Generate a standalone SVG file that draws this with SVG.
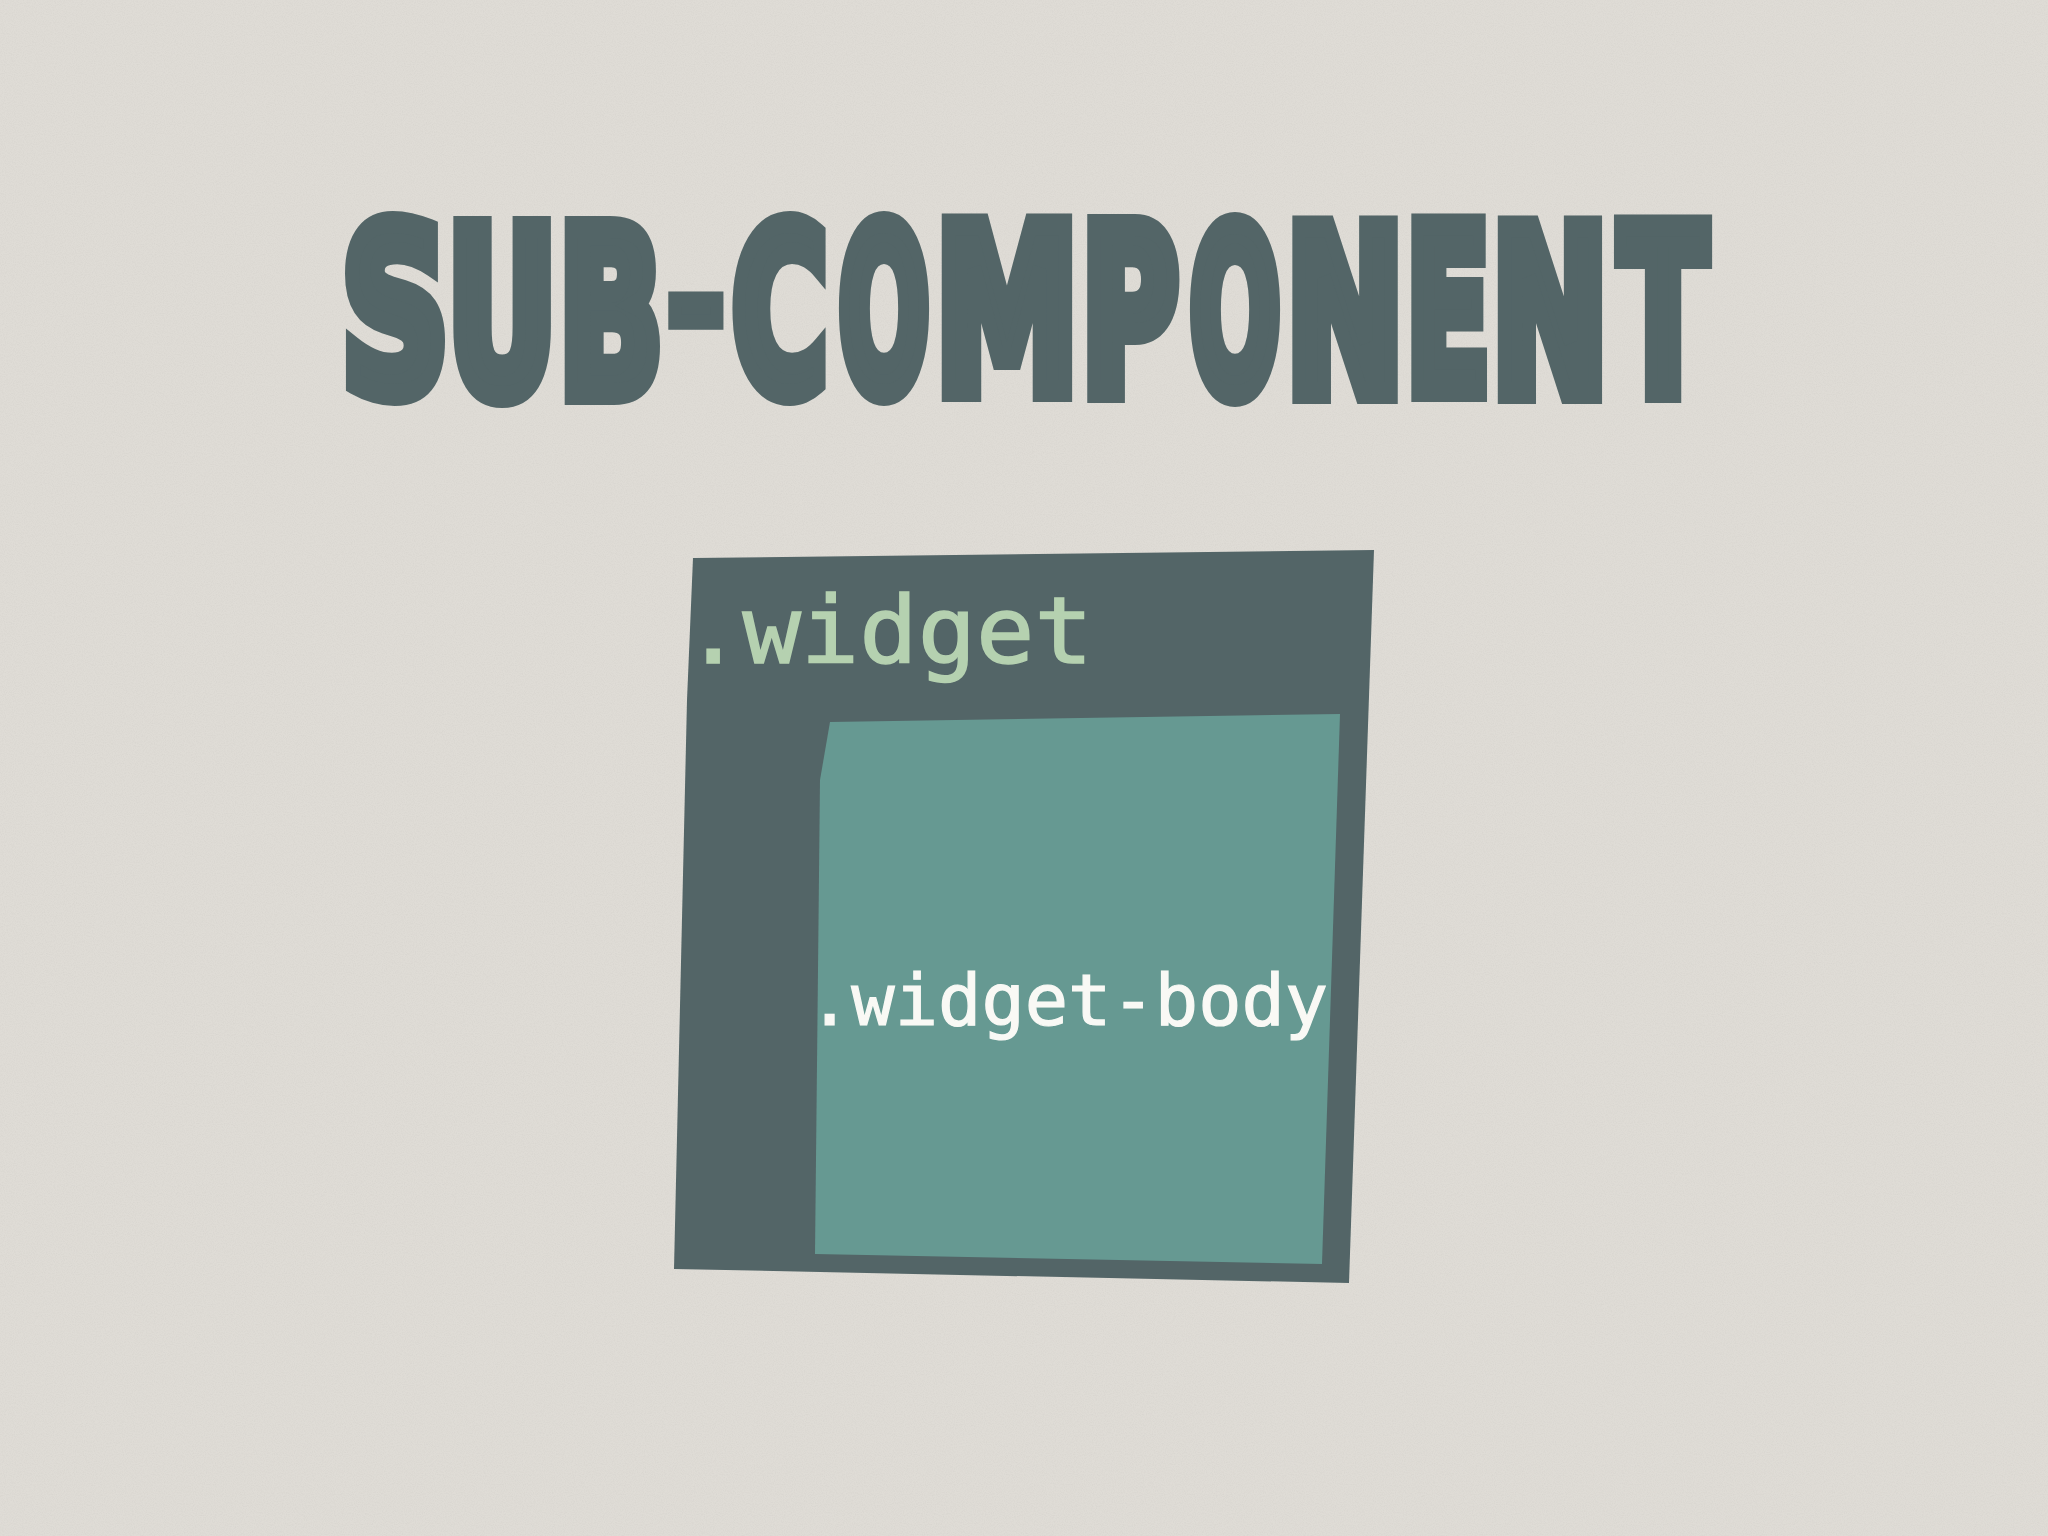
<svg xmlns="http://www.w3.org/2000/svg" width="2048" height="1536" viewBox="0 0 2048 1536">
<defs>
<filter id="paper" x="0" y="0" width="100%" height="100%">
<feTurbulence type="fractalNoise" baseFrequency="0.9" numOctaves="2" seed="3" result="n"/>
<feColorMatrix type="matrix" values="0 0 0 0 0.55  0 0 0 0 0.53  0 0 0 0 0.5  0 0 0 -1.2 0.75"/>
</filter>
</defs>
<style>
.t{font-family:"DejaVu Sans",sans-serif;font-weight:700;font-size:228px;fill:#536567;stroke:#536567;stroke-width:22px;stroke-linejoin:miter;stroke-miterlimit:4;text-anchor:middle}
.mono{font-family:"DejaVu Sans Mono",monospace}
</style>
<rect width="2048" height="1536" fill="#dfdcd6"/>
<rect width="2048" height="1536" filter="url(#paper)" opacity="0.35"/>
<g id="title">
<text class="t" transform="translate(395,392) scale(0.653,1)">S</text>
<text class="t" transform="translate(502,394) scale(0.59,1)">U</text>
<text class="t" transform="translate(611,394) scale(0.6,1)">B</text>
<text class="t" transform="translate(696,357) scale(0.6,0.7)">-</text>
<text class="t" transform="translate(780,392) scale(0.57,1)">C</text>
<text class="t" transform="translate(884,392) scale(0.467,1)">O</text>
<text class="t" transform="translate(1007,391) scale(0.63,1)">M</text>
<text class="t" transform="translate(1130,392) scale(0.58,1)">P</text>
<text class="t" transform="translate(1235,393) scale(0.467,1)">O</text>
<text class="t" transform="translate(1345,393) scale(0.616,1)">N</text>
<text class="t" transform="translate(1448,391) scale(0.54,1)">E</text>
<text class="t" transform="translate(1550,393) scale(0.61,1)">N</text>
<text class="t" transform="translate(1663,392) scale(0.56,1)">T</text>
</g>
<g id="widget">
<polygon points="693,558 1374,550 1349,1283 674,1269 687,700" fill="#536567"/>
<text class="mono" transform="translate(684,663) scale(1.055,1)" font-size="92" fill="#b5d1b0" stroke="#b5d1b0" stroke-width="1.5">.widget</text>
</g>
<g id="widget-body">
<polygon points="830,722 1340,714 1322,1264 815,1254 820,780" fill="#669992"/>
<text class="mono" x="808" y="1025" font-size="72" fill="#f9f9f5" stroke="#f9f9f5" stroke-width="1.2">.widget-body</text>
</g>
<g id="connectors"/>
</svg>
